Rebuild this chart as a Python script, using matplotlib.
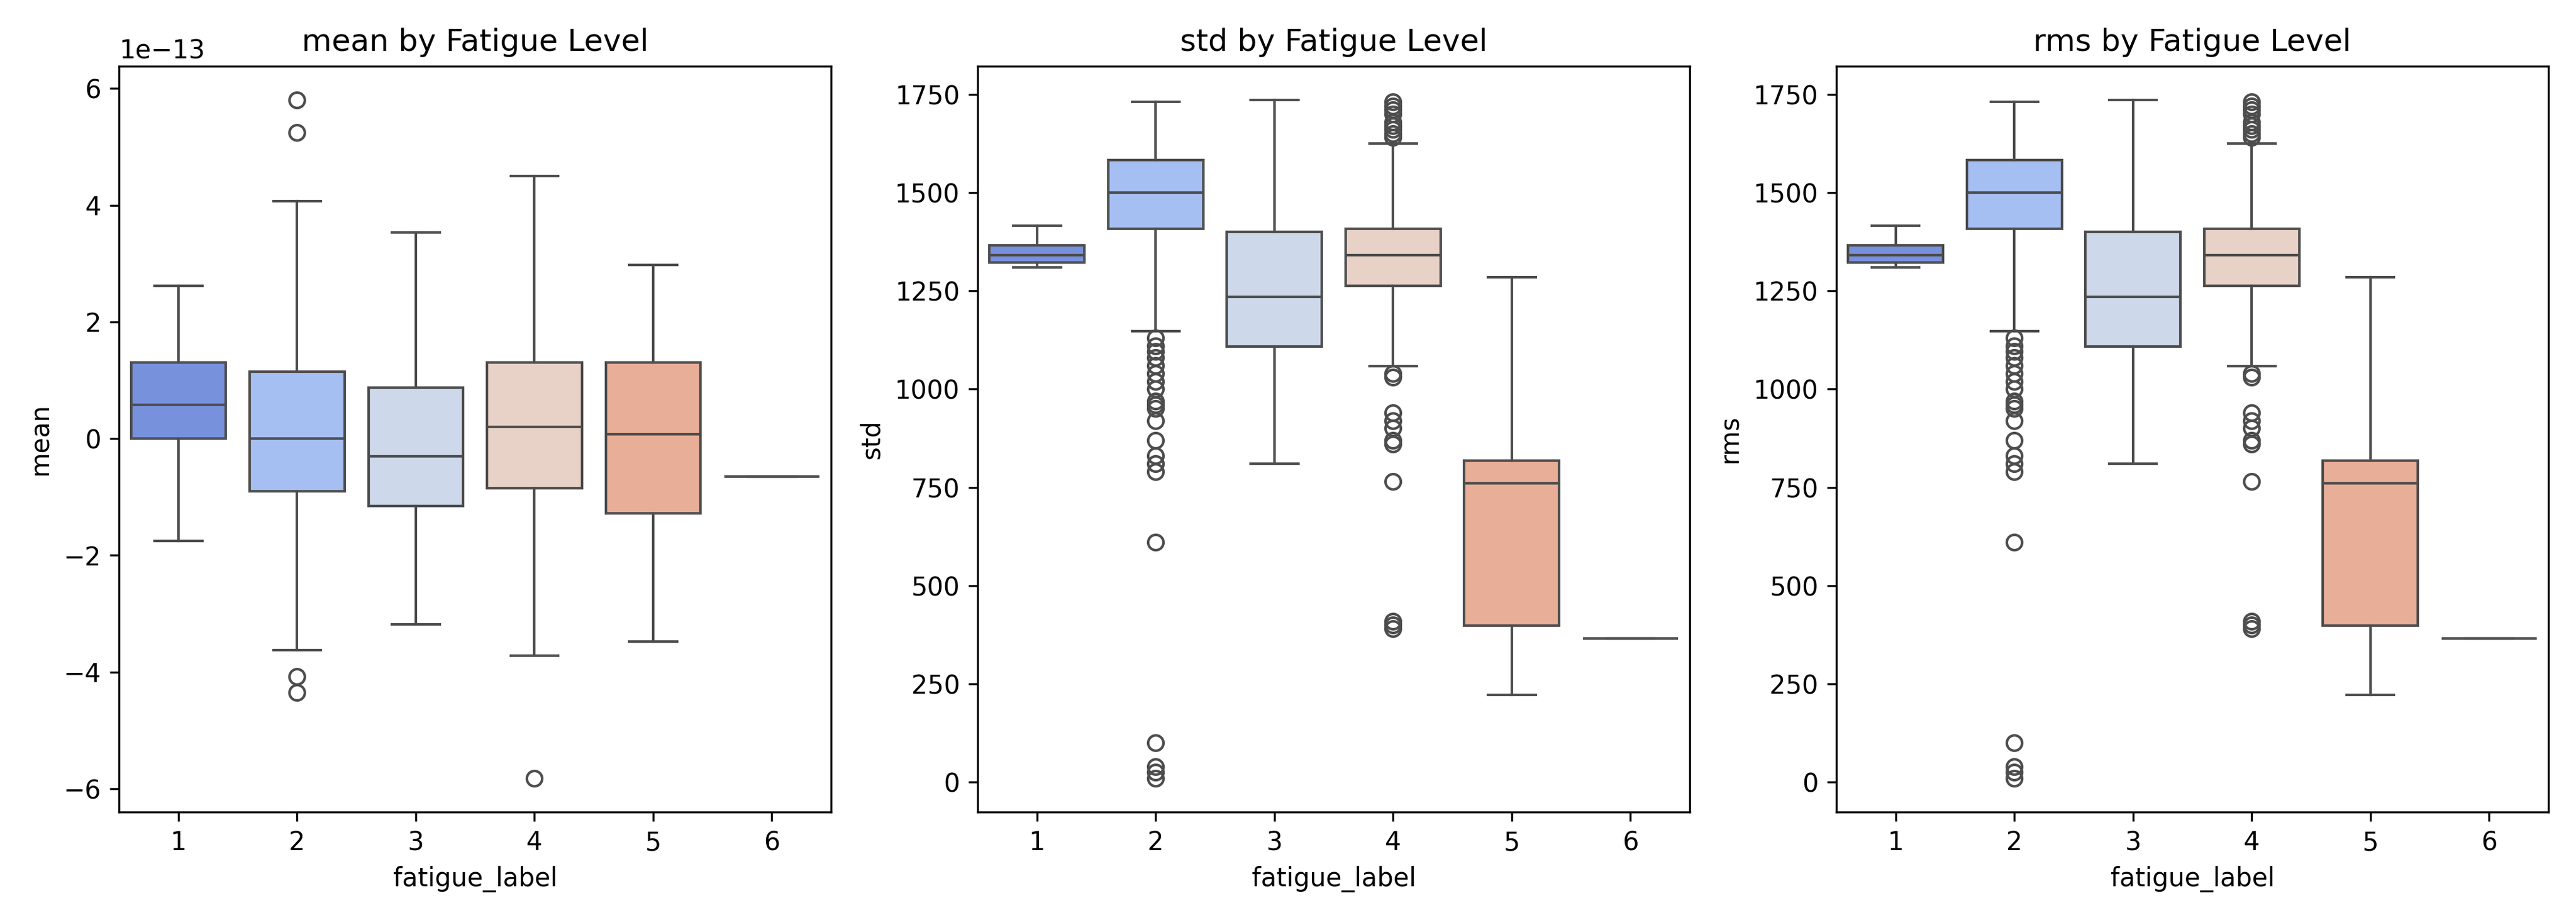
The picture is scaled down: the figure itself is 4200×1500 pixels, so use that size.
import matplotlib
matplotlib.use("Agg")
import matplotlib.pyplot as plt
import seaborn as sns

labels = [1, 2, 3, 4, 5, 6]

# box stats per fatigue level: whislo, q1, med, q3, whishi
mean_stats = [
    (-1.75e-13, 0.0, 0.58e-13, 1.3e-13, 2.62e-13),
    (-3.62e-13, -0.9e-13, 0.0, 1.15e-13, 4.07e-13),
    (-3.18e-13, -1.15e-13, -0.3e-13, 0.87e-13, 3.53e-13),
    (-3.72e-13, -0.85e-13, 0.2e-13, 1.3e-13, 4.5e-13),
    (-3.48e-13, -1.28e-13, 0.08e-13, 1.3e-13, 2.98e-13),
    (-0.65e-13, -0.65e-13, -0.65e-13, -0.65e-13, -0.65e-13),
]
mean_fliers = [[], [5.8e-13, 5.25e-13, -4.08e-13, -4.35e-13], [], [-5.82e-13], [], []]

std_stats = [
    (1310, 1322, 1340, 1365, 1415),
    (1148, 1408, 1500, 1582, 1730),
    (810, 1108, 1235, 1400, 1735),
    (1058, 1262, 1340, 1408, 1625),
    (222, 398, 760, 818, 1285),
    (365, 365, 365, 365, 365),
]
std_fliers = [
    [],
    [1130, 1110, 1095, 1080, 1060, 1040, 1020, 1000, 970, 960, 950, 920,
     870, 830, 810, 790, 610, 100, 40, 25, 10],
    [],
    [1640, 1650, 1660, 1670, 1680, 1700, 1710, 1720, 1730,
     1040, 1030, 940, 920, 900, 870, 860, 765, 410, 400, 390],
    [],
    [],
]
rms_stats = std_stats
rms_fliers = std_fliers

panels = [("mean", mean_stats, mean_fliers),
          ("std", std_stats, std_fliers),
          ("rms", rms_stats, rms_fliers)]

colors = [sns.desaturate(c, 0.75) for c in sns.color_palette("coolwarm", 6)]
line = "#4d4d4d"

fig, axes = plt.subplots(1, 3, figsize=(14, 5), dpi=300)
for ax, (name, stats, fliers) in zip(axes, panels):
    bxp = []
    for s, f in zip(stats, fliers):
        bxp.append(dict(whislo=s[0], q1=s[1], med=s[2], q3=s[3], whishi=s[4], fliers=f))
    res = ax.bxp(bxp, positions=range(len(labels)), widths=0.8, patch_artist=True,
                 boxprops=dict(edgecolor=line, linewidth=1),
                 medianprops=dict(color=line, linewidth=1),
                 whiskerprops=dict(color=line, linewidth=1),
                 capprops=dict(color=line, linewidth=1),
                 flierprops=dict(marker="o", markerfacecolor="none",
                                 markeredgecolor=line, markersize=6))
    for patch, c in zip(res["boxes"], colors):
        patch.set_facecolor(c)
    ax.set_xticks(range(len(labels)))
    ax.set_xticklabels([str(l) for l in labels])
    ax.set_xlim(-0.5, 5.5)
    ax.set_xlabel("fatigue_label")
    ax.set_ylabel(name)
    ax.set_title(f"{name} by Fatigue Level", fontsize=12)

axes[1].set_yticks(range(0, 1751, 250))
axes[2].set_yticks(range(0, 1751, 250))
plt.tight_layout()
plt.savefig("out.png")
